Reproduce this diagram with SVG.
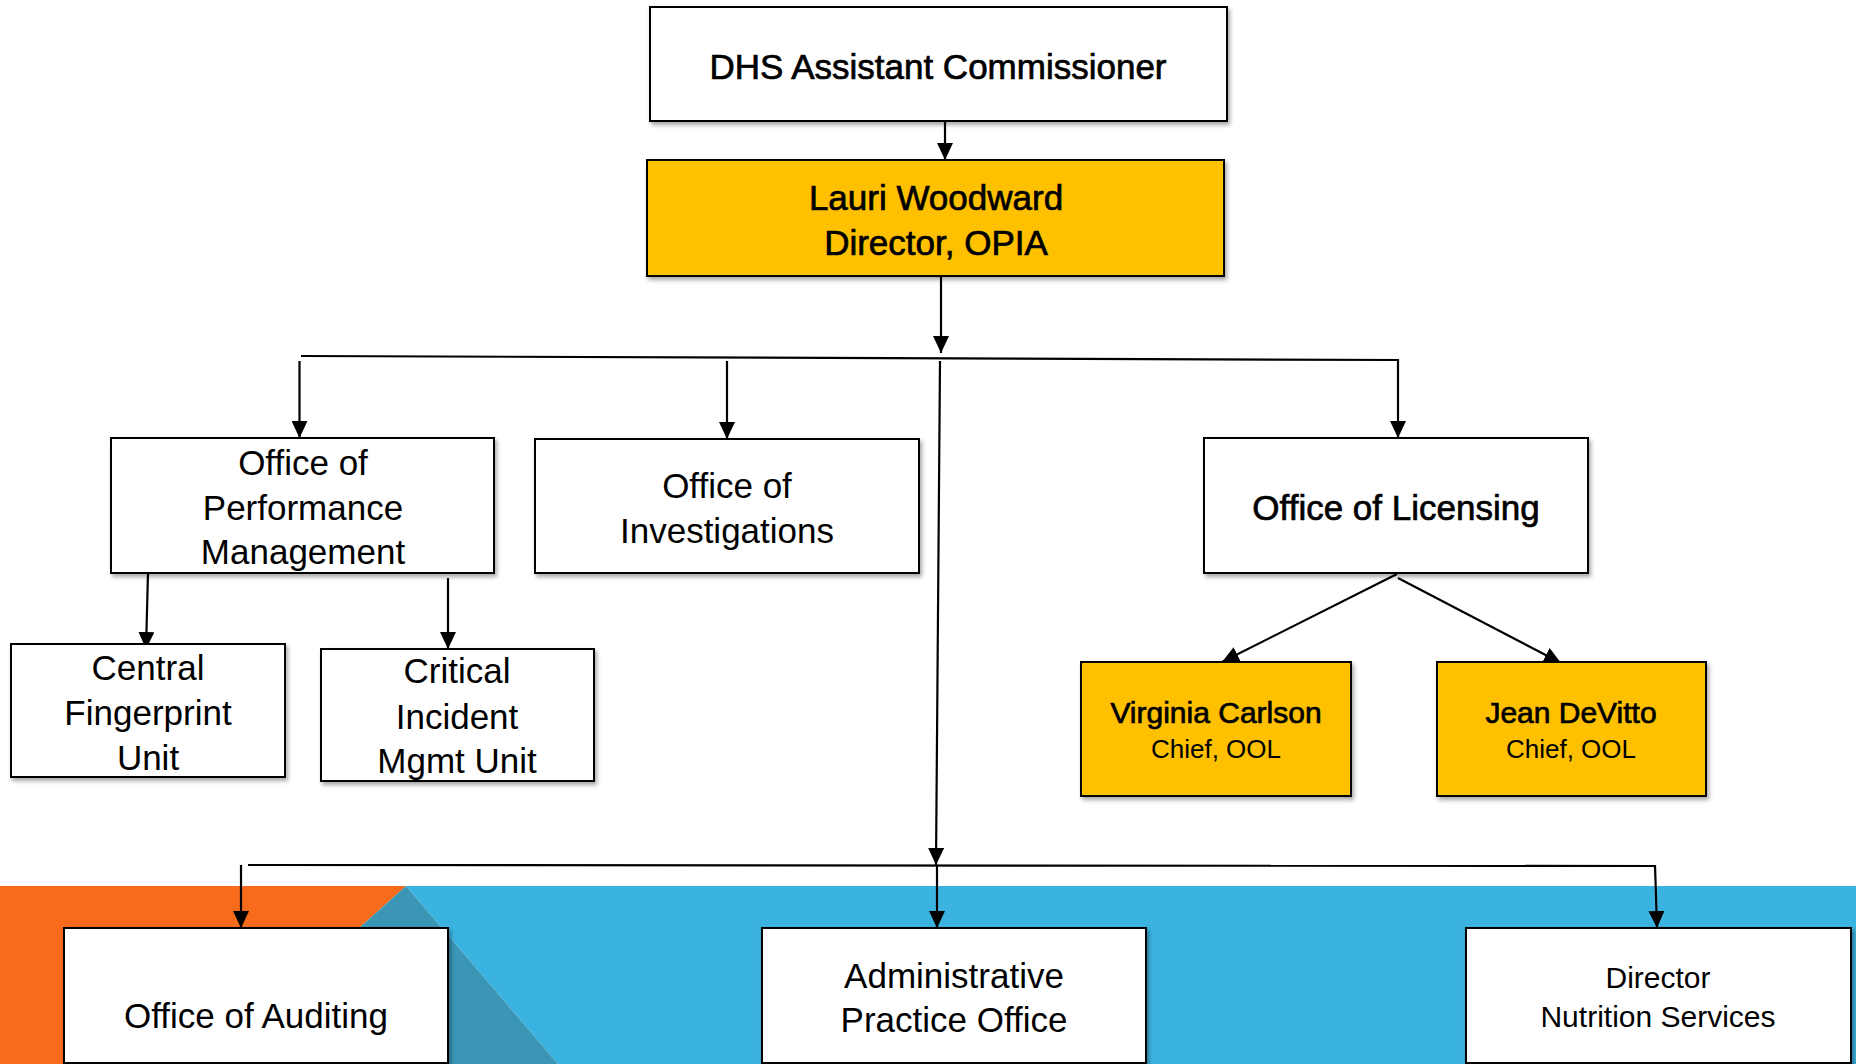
<svg xmlns="http://www.w3.org/2000/svg" width="1856" height="1064" viewBox="0 0 1856 1064">
<style>
  .box{fill:#fff;stroke:#000;stroke-width:2;filter:url(#sh)}
  .yel{fill:#FFC000;stroke:#000;stroke-width:2;filter:url(#sh)}
  text{font-family:"Liberation Sans",Arial,sans-serif;fill:#000;text-anchor:middle}
  .t35{font-size:35px}
  .t30{font-size:30px}
  .t26{font-size:26px}
  .med{stroke:#000;stroke-width:0.7px}
  .con line{stroke:#000;stroke-width:2.2;fill:none}
</style>
<defs>
  <filter id="sh" x="-5%" y="-5%" width="115%" height="120%">
    <feDropShadow dx="2" dy="3" stdDeviation="2" flood-color="#000" flood-opacity="0.35"/>
  </filter>
  <marker id="ah" markerUnits="userSpaceOnUse" markerWidth="17" markerHeight="16" refX="17" refY="8" orient="auto">
    <path d="M0,0 L17,8 L0,16 z" fill="#000"/>
  </marker>
</defs>
<rect width="1856" height="1064" fill="#fff"/>
<g id="background">
  <polygon points="406,886 1856,886 1856,1064 558,1064" fill="#3BB3E0"/>
  <polygon points="0,886 406,886 207,1064 0,1064" fill="#F86B1D"/>
  <polygon points="406,886 558,1064 207,1064" fill="#3A96B4"/>
</g>
<g class="con" id="connectors">
  <line x1="945" y1="121" x2="945" y2="160" marker-end="url(#ah)"/>
  <line x1="941" y1="276" x2="941" y2="353" marker-end="url(#ah)"/>
  <line x1="301" y1="356" x2="1399" y2="360"/>
  <line x1="299.5" y1="361" x2="299.5" y2="438" marker-end="url(#ah)"/>
  <line x1="727" y1="361" x2="727" y2="439" marker-end="url(#ah)"/>
  <line x1="1398" y1="359" x2="1398" y2="438" marker-end="url(#ah)"/>
  <line x1="940" y1="361" x2="936" y2="865" marker-end="url(#ah)"/>
  <line x1="148" y1="573" x2="146" y2="649" marker-end="url(#ah)"/>
  <line x1="448" y1="578" x2="448" y2="649" marker-end="url(#ah)"/>
  <line x1="1397" y1="574" x2="1222" y2="662" marker-end="url(#ah)"/>
  <line x1="1398" y1="578" x2="1561" y2="663" marker-end="url(#ah)"/>
  <line x1="248" y1="865" x2="1656" y2="866"/>
  <line x1="241" y1="865" x2="241" y2="928" marker-end="url(#ah)"/>
  <line x1="937" y1="866" x2="937" y2="928" marker-end="url(#ah)"/>
  <line x1="1655" y1="865" x2="1657" y2="928" marker-end="url(#ah)"/>
</g>
<g id="dhs">
  <rect class="box" x="650" y="7" width="577" height="114"/>
  <text class="t35 med" x="938" y="79">DHS Assistant Commissioner</text>
</g>
<g id="lauri">
  <rect class="yel" x="647" y="160" width="577" height="116"/>
  <text class="t35 med" x="936" y="210">Lauri Woodward</text>
  <text class="t35 med" x="936" y="255">Director, OPIA</text>
</g>
<g id="opm">
  <rect class="box" x="111" y="438" width="383" height="135"/>
  <text class="t35" x="303" y="475">Office of</text>
  <text class="t35" x="303" y="520">Performance</text>
  <text class="t35" x="303" y="564">Management</text>
</g>
<g id="investigations">
  <rect class="box" x="535" y="439" width="384" height="134"/>
  <text class="t35" x="727" y="498">Office of</text>
  <text class="t35" x="727" y="543">Investigations</text>
</g>
<g id="licensing">
  <rect class="box" x="1204" y="438" width="384" height="135"/>
  <text class="t35 med" x="1396" y="520">Office of Licensing</text>
</g>
<g id="central">
  <rect class="box" x="11" y="644" width="274" height="133"/>
  <text class="t35" x="148" y="680">Central</text>
  <text class="t35" x="148" y="725">Fingerprint</text>
  <text class="t35" x="148" y="770">Unit</text>
</g>
<g id="critical">
  <rect class="box" x="321" y="649" width="273" height="132"/>
  <text class="t35" x="457" y="683">Critical</text>
  <text class="t35" x="457" y="729">Incident</text>
  <text class="t35" x="457" y="773">Mgmt Unit</text>
</g>
<g id="virginia">
  <rect class="yel" x="1081" y="662" width="270" height="134"/>
  <text class="t30 med" x="1216" y="723">Virginia Carlson</text>
  <text class="t26" x="1216" y="758">Chief, OOL</text>
</g>
<g id="jean">
  <rect class="yel" x="1437" y="662" width="269" height="134"/>
  <text class="t30 med" x="1571" y="723">Jean DeVitto</text>
  <text class="t26" x="1571" y="758">Chief, OOL</text>
</g>
<g id="auditing">
  <rect class="box" x="64" y="928" width="384" height="135"/>
  <text class="t35" x="256" y="1028">Office of Auditing</text>
</g>
<g id="admin">
  <rect class="box" x="762" y="928" width="384" height="135"/>
  <text class="t35" x="954" y="988">Administrative</text>
  <text class="t35" x="954" y="1032">Practice Office</text>
</g>
<g id="nutrition">
  <rect class="box" x="1466" y="928" width="385" height="135"/>
  <text class="t30" x="1658" y="988">Director</text>
  <text class="t30" x="1658" y="1027">Nutrition Services</text>
</g>
</svg>
